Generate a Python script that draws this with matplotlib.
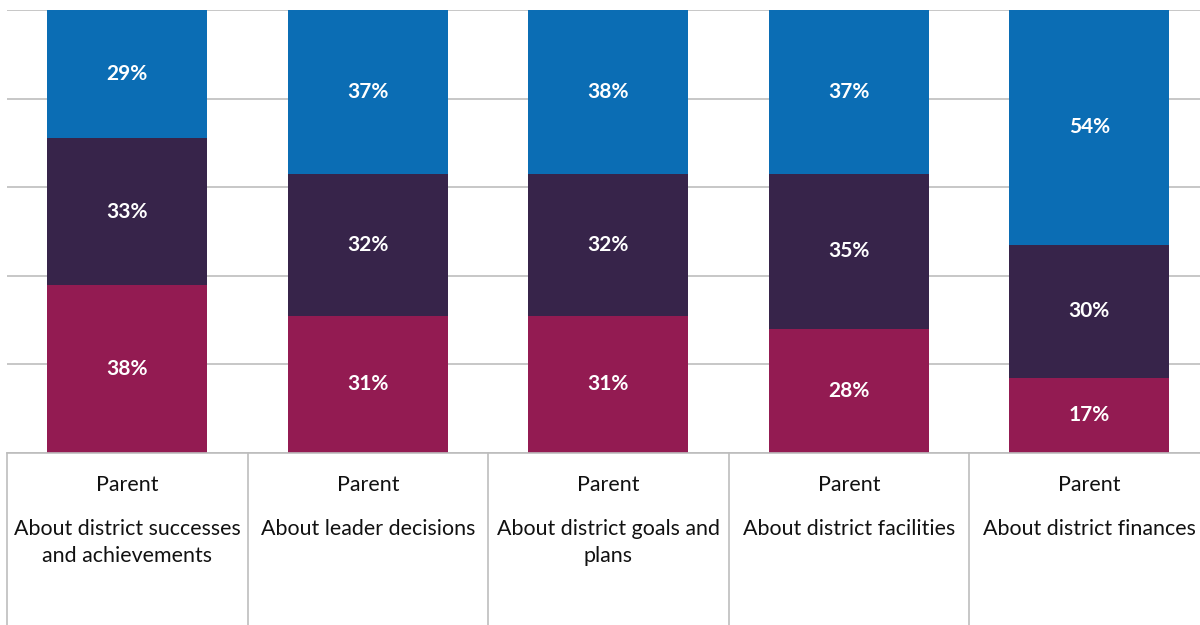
import matplotlib
matplotlib.use('Agg')
import matplotlib.pyplot as plt
import numpy as np

plt.rcParams['font.family'] = ['Lato', 'DejaVu Sans']

groups = ['Parent'] * 5
topics = ['About district successes\nand achievements',
          'About leader decisions',
          'About district goals and\nplans',
          'About district facilities',
          'About district finances']
bottom_vals = [38, 31, 31, 28, 17]
middle_vals = [33, 32, 32, 35, 30]
top_vals = [29, 37, 38, 37, 54]

colors = ['#931b52', '#37244a', '#0b6db4']
grid_color = '#bdbdbd'

fig = plt.figure(figsize=(12, 6.25), dpi=100)
# axes run a little past the right edge so the last cell is cut off
ax = fig.add_axes([7 / 1200, 172 / 625, 1202.5 / 1200, 443 / 625])

x = np.arange(len(topics))
width = 0.665
base = np.zeros(len(x))
for vals, c in zip([bottom_vals, middle_vals, top_vals], colors):
    vals = np.array(vals, dtype=float)
    ax.bar(x, vals, width, bottom=base, color=c, zorder=2)
    for xi, b, v in zip(x, base, vals):
        top = min(b + v, 100)
        ax.text(xi, (b + top) / 2, f'{int(v)}%', ha='center', va='center',
                color='white', fontsize=15, fontweight='bold', zorder=3)
    base += vals

ax.set_xlim(-0.5, len(x) - 0.5)
ax.set_ylim(0, 100)
ax.set_yticks(np.arange(0, 101, 20))
ax.yaxis.grid(True, color=grid_color, linewidth=1.2, zorder=0)
ax.set_yticklabels([])
ax.tick_params(length=0)
ax.set_xticks([])
for s in ['top', 'right', 'left']:
    ax.spines[s].set_visible(False)
ax.spines['bottom'].set_color(grid_color)
ax.spines['bottom'].set_linewidth(1.2)

# table-style cells under the bars
for b in np.arange(-0.5, len(x) + 0.5, 1.0):
    ax.plot([b, b], [0, -45], color=grid_color, linewidth=1.2, clip_on=False)

for xi, g, t in zip(x, groups, topics):
    ax.annotate(g, (xi, 0), xytext=(0, -15.5), textcoords='offset points',
                ha='center', va='top', fontsize=15.4, color='#111111',
                annotation_clip=False)
    ax.annotate(t, (xi, 0), xytext=(0, -47.5), textcoords='offset points',
                ha='center', va='top', fontsize=15.4, color='#111111',
                linespacing=1.42, annotation_clip=False)

plt.savefig('out.png', dpi=100)
